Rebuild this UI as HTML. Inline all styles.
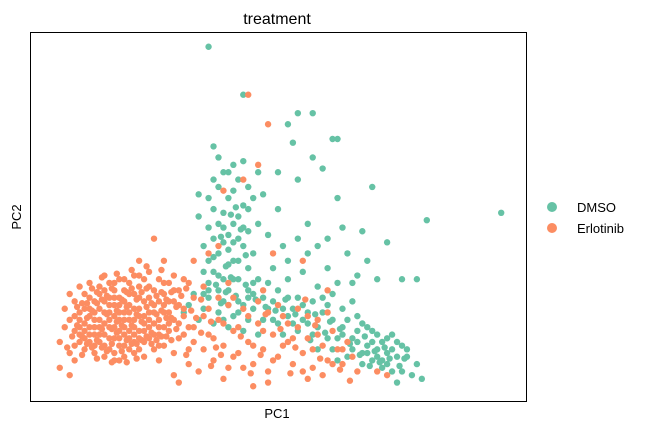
<!DOCTYPE html>
<html><head><meta charset="utf-8"><style>
body{margin:0;background:#fff;}
svg text{font-family:"Liberation Sans",sans-serif;}
</style></head><body>
<svg width="650" height="431">
<rect x="30.5" y="32.5" width="496" height="369" fill="none" stroke="#000" stroke-width="1"/>
<g id="dots"></g>
<text x="277" y="24" text-anchor="middle" font-size="16">treatment</text>
<text x="277" y="418" text-anchor="middle" font-size="13">PC1</text>
<text x="0" y="0" transform="translate(21,217) rotate(-90)" text-anchor="middle" font-size="13">PC2</text>
<g><circle cx="552" cy="207" r="5" fill="#66c2a5"/><text x="577" y="212" font-size="13">DMSO</text></g>
<g><circle cx="552" cy="228" r="5" fill="#fc8d62"/><text x="577" y="233" font-size="13">Erlotinib</text></g>
</svg>
<script>
const categories=["DMSO","Erlotinib"];
const dmsoPoints=[[36,30],[37,35],[38,40],[39,33],[40,45],[41,38],[42,50],[43,42],[44,36],[45,55],[36,47],[37,52],[38,58],[39,62],[40,55],[41,48],[42,60],[43,65],[44,46],[45,40],[35,42],[36,55],[37,44],[38,48],[39,51],[40,37],[41,57],[42,44],[43,53],[44,58],[45,32],[46,48],[37,60],[39,43],[41,64],[43,47],[35,35],[38,66],[40,62],[42,38],[44,52],[46,62],[34,50],[36,38],[38,34],[40,30],[42,33],[44,30],[40,41],[39,47],[41,43],[37,39],
[32,26],[34,22],[36,28],[38,24],[40,20],[42,27],[44,22],[46,18],[48,25],[50,21],[52,28],[54,19],[56,24],[58,20],[60,26],[62,17],[64,22],[66,19],[68,15],[70,18],[72,13],[74,16],[76,12],[78,10],[69,11],[71,9],[73,14],[75,8],[77,7],[65,14],[67,10],[63,20],[61,22],[59,24],[57,27],[55,22],[53,25],[51,18],[49,22],[47,28],[45,25],[43,19],[41,23],[39,27],[37,21],[35,25],[33,29],[31,24],[66,23],[68,20],[70,14],[72,17],[74,12],[76,14],[64,12],[62,11],[60,17],[58,14],[56,21],[54,28],[52,23],[50,30],[48,32],[46,33],[44,28],[42,24],[40,26],[38,30],[35,29],[65,17],[67,13],[69,16],[71,11],[73,8],[79,6],[74,5],
[67,21],[69,19],[71,16],[73,18],[75,15],[70,12],[72,10],[68,13],[66,16],[63,18],[61,14],[57,18],[53,21],[47,22],[43,26],[39,22],[36,32],[41,33],[45,29],[49,27],[51,25],[55,26],[59,28],[63,25],[65,27],[61,29],
[48,45],[50,52],[52,38],[54,60],[55,35],[56,48],[58,42],[60,36],[62,55],[64,40],[66,34],[68,38],[70,33],[50,62],[53,70],[57,66],[59,63],[61,71],[63,47],[49,36],[51,42],[47,56],[54,44],[58,31],[60,44],[65,32],[67,46],[52,33],[56,40],[62,32],
[36,96],[43,83],[54,78],[62,71],[69,58],[80,49],[95,51],[57,78],[52,75],[37,69],[34,56],[75,33],[78,33],[72,43],
[39.5,36.5],[40.5,50.5],[41.5,52.5],[42.5,46.5],[43.5,39.5],[38.5,44.5],[37.5,31.5],[40.5,33.5],[39.5,29.5],[43.5,31.5],[45.5,27.5],[47.5,25.5],[49.5,24.5],[51.5,27.5],[53.5,23.5],[56.5,16.5],[59.5,18.5],[62.5,19.5],[64.5,15.5],[66.5,12.5],[68.5,9.5],[70.5,10.5],[72.5,11.5],[74.5,9.5],[75.5,11.5],[67.5,17.5],[69.5,13.5],[71.5,14.5],[60.5,21.5],[57.5,23.5],[41.5,28.5],[38.5,26.5]];
const erlotinibPoints=[[9,15],[10,18],[11,14],[12,20],[12,16],[13,22],[13,13],[14,18],[14,25],[15,15],[15,21],[16,28],[16,17],[17,23],[17,13],[18,19],[18,26],[19,15],[19,30],[20,22],[20,17],[21,25],[21,13],[22,19],[22,28],[23,16],[23,23],[24,31],[24,20],[25,14],[25,26],[26,18],[26,22],[27,29],[27,15],[28,24],[28,19],[29,13],[29,27],[30,21],[30,17],[31,25],[32,14],[32,20],[33,28],[33,16],[8,22],[9,27],[10,24],[11,29],[12,32],[13,27],[14,31],[15,34],[16,24],[17,30],[18,33],[19,24],[20,29],[21,34],[22,31],[23,27],[24,35],[25,30],[26,33],[27,20],[28,32],[29,22],[30,30],[31,18],[7,25],[8,29],[10,31],[11,21],[12,25],[13,18],[14,22],[15,27],[16,20],[17,17],[18,22],[19,20],[20,26],[21,20],[22,23],[23,19],[24,24],[25,21],[26,27],[27,24],[15,12],[17,11],[19,12],[21,16],[23,12],[16,14],[18,15],[20,14],[14,29],[12,28],[10,20],[9,23],[25,18],[26,15],[22,14],[24,28],[20,32],[18,28],[17,26],[16,32],[11,17],[13,24],[19,27],[21,29],[23,33],[27,32],[29,30],[28,27],[30,26],[31,23],
[9,19],[10,16],[11,25],[12,23],[13,20],[14,16],[14,20],[15,18],[15,24],[16,22],[16,26],[17,20],[17,28],[18,17],[18,24],[19,18],[19,22],[20,19],[20,24],[21,18],[21,22],[22,17],[22,25],[23,21],[24,17],[24,22],[25,24],[26,20],[27,26],[28,21],[13,15],[11,19],[12,18],[10,22],[15,30],[17,32],[19,33],[22,34],[6,16],[7,20],[8,13],[9,11],[18,11],[26,11],[6,9],[8,7],
[10.5,17.5],[11.5,22.5],[12.5,14.5],[13.5,26.5],[14.5,19.5],[15.5,23.5],[16.5,15.5],[17.5,21.5],[18.5,27.5],[19.5,16.5],[20.5,20.5],[21.5,27.5],[22.5,21.5],[23.5,25.5],[24.5,18.5],[25.5,28.5],[26.5,24.5],[27.5,17.5],[28.5,22.5],[29.5,25.5],[11.5,26.5],[12.5,30.5],[13.5,16.5],[14.5,27.5],[15.5,13.5],[16.5,30.5],[17.5,18.5],[18.5,13.5],[19.5,25.5],[20.5,30.5],[21.5,15.5],[22.5,29.5],[23.5,17.5],[24.5,26.5],[25.5,16.5],[26.5,29.5],[27.5,22.5],[28.5,29.5],[29.5,19.5],[30.5,28.5],[9.5,20.5],[10.5,26.5],[11.5,15.5],[12.5,24.5],[13.5,29.5],[14.5,14.5],[15.5,28.5],[16.5,19.5],[17.5,24.5],[18.5,20.5],[19.5,29.5],[20.5,15.5],[21.5,23.5],[22.5,16.5],[23.5,30.5],[24.5,15.5],[25.5,23.5],[26.5,17.5],[27.5,27.5],[28.5,16.5],[8.5,17.5],[9.5,25.5],[10.5,12.5],[14.5,33.5],[17.5,34.5],[20.5,35.5],[23.5,36.5],[26.5,35.5],[31.5,30.5],[32.5,24.5],[33.5,22.5],[34.5,18.5],[7.5,14.5],[13.5,11.5],[16.5,10.5],[19.5,10.5],[21.5,11.5],
[32,10],[34,8],[35,14],[36,18],[37,11],[38,22],[39,15],[40,9],[41,19],[42,13],[43,25],[44,16],[45,10],[46,21],[47,14],[48,8],[49,18],[50,12],[51,23],[52,16],[53,10],[54,20],[55,13],[56,17],[57,9],[58,22],[59,15],[60,11],[61,19],[62,14],[63,10],[64,16],[65,12],[66,8],[36,25],[38,28],[40,26],[42,20],[44,23],[46,27],[48,24],[50,26],[52,21],[54,25],[56,23],[58,18],[60,24],[33,20],[35,23],[37,17],[39,21],[41,12],[43,9],[45,15],[47,19],[49,11],[51,15],[53,17],[55,8],[57,14],[59,7],[61,10],[63,14],[29,7],[30,5],[48,5],[45,4],[56,6],[39,6],[41,28],[35,31],[32,32],[40,32],[47,30],
[31.5,12.5],[34.5,27.5],[36.5,21.5],[37.5,14.5],[42.5,17.5],[46.5,12.5],[50.5,19.5],[53.5,14.5],[57.5,20.5],[44.5,7.5],[52.5,7.5],[58.5,11.5],[62.5,8.5],[64.5,5.5],[36.5,9.5],[38.5,12.5],[47.5,23.5],[55.5,27.5],
[25,44],[44,83],[48,75],[39,57],[43,60],[46,64],[36,40],[33,38],[38,42],[27,38],[22,38],[29,34],[31,33],[49,40],[55,38],[60,30],[70,8],[72,7]];
const xDomain=[0,100], yDomain=[0,100];
const plot={l:30,r:526,t:32,b:401};
function xScale(v){return plot.l+(v-xDomain[0])/(xDomain[1]-xDomain[0])*(plot.r-plot.l);}
function yScale(v){return plot.b-(v-yDomain[0])/(yDomain[1]-yDomain[0])*(plot.b-plot.t);}
const g=document.getElementById('dots');
const ns='http://www.w3.org/2000/svg';
function draw(pts,color,name){
  pts.forEach(p=>{
    const c=document.createElementNS(ns,'circle');
    c.setAttribute('cx',xScale(p[0]));
    c.setAttribute('cy',yScale(p[1]));
    c.setAttribute('r',3.2);
    c.setAttribute('fill',color);
    
    
    g.appendChild(c);
  });
}
draw(dmsoPoints,'#66c2a5','dmso-point');
draw(erlotinibPoints,'#fc8d62','erlotinib-point');
</script>
</body></html>
